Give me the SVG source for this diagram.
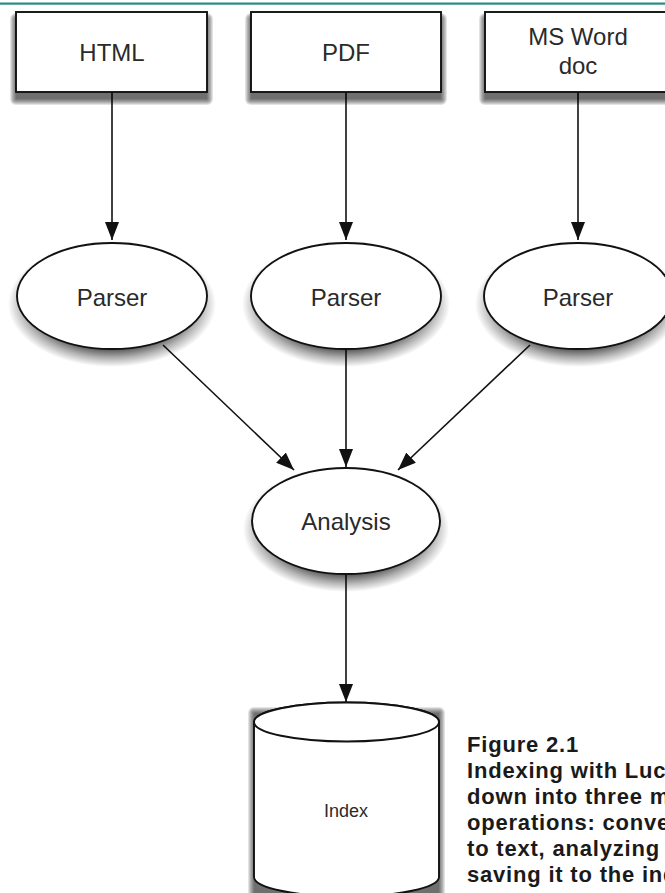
<svg xmlns="http://www.w3.org/2000/svg" width="665" height="893" viewBox="0 0 665 893">
<style>
.node{fill:#fff;stroke:#111;stroke-width:1.9}
.lbl{font-family:"Liberation Sans",Arial,sans-serif;font-size:24px;fill:#2a2a2a;text-anchor:middle}
.edge{stroke:#111;stroke-width:1.6;fill:none;marker-end:url(#ah)}
.cap{font-family:"Liberation Sans",Arial,sans-serif;font-size:22px;font-weight:bold;fill:#1a1a1a;letter-spacing:0.8px}
.sl{fill:#000;fill-opacity:0.11}
.es{fill:url(#eg)}
</style>
<defs>
<radialGradient id="eg" cx="50%" cy="50%" r="50%">
<stop offset="0" stop-color="#000" stop-opacity="0.7"/>
<stop offset="0.72" stop-color="#000" stop-opacity="0.65"/>
<stop offset="0.86" stop-color="#000" stop-opacity="0.3"/>
<stop offset="1" stop-color="#000" stop-opacity="0"/>
</radialGradient>
<marker id="ah" markerUnits="userSpaceOnUse" markerWidth="18" markerHeight="14" refX="18" refY="7" orient="auto">
<path d="M0,0 L18,7 L0,14 z" fill="#111"/>
</marker>
</defs>
<rect x="0" y="0" width="665" height="893" fill="#fff"/>
<rect x="0" y="2.5" width="665" height="2.2" fill="#2a8a84"/>

<g id="connectors">
<line class="edge" x1="112" y1="92" x2="112" y2="240"/>
<line class="edge" x1="346" y1="92" x2="346" y2="240"/>
<line class="edge" x1="578" y1="92" x2="578" y2="240"/>
<line class="edge" x1="163" y1="345" x2="294" y2="470"/>
<line class="edge" x1="346" y1="347" x2="346" y2="467"/>
<line class="edge" x1="530" y1="345" x2="398" y2="470"/>
<line class="edge" x1="346" y1="574" x2="346" y2="702"/>
</g>

<g id="html">
<rect class="sl" x="16" y="19" width="191" height="80"/>
<rect class="sl" x="15" y="18" width="193" height="82" rx="1"/>
<rect class="sl" x="14" y="17" width="195" height="84" rx="2"/>
<rect class="sl" x="13" y="16" width="197" height="86" rx="3"/>
<rect class="sl" x="12" y="15" width="199" height="88" rx="4"/>
<rect class="sl" x="11" y="14" width="201" height="90" rx="5"/>
<rect class="sl" x="10" y="13" width="203" height="92" rx="6"/>
<rect class="node" x="16" y="12" width="191" height="80"/>
<text class="lbl" x="112" y="61">HTML</text>
</g>
<g id="pdf">
<rect class="sl" x="251" y="19" width="190" height="80"/>
<rect class="sl" x="250" y="18" width="192" height="82" rx="1"/>
<rect class="sl" x="249" y="17" width="194" height="84" rx="2"/>
<rect class="sl" x="248" y="16" width="196" height="86" rx="3"/>
<rect class="sl" x="247" y="15" width="198" height="88" rx="4"/>
<rect class="sl" x="246" y="14" width="200" height="90" rx="5"/>
<rect class="sl" x="245" y="13" width="202" height="92" rx="6"/>
<rect class="node" x="251" y="12" width="190" height="80"/>
<text class="lbl" x="346" y="61">PDF</text>
</g>
<g id="msword">
<rect class="sl" x="485" y="19" width="192" height="80"/>
<rect class="sl" x="484" y="18" width="194" height="82" rx="1"/>
<rect class="sl" x="483" y="17" width="196" height="84" rx="2"/>
<rect class="sl" x="482" y="16" width="198" height="86" rx="3"/>
<rect class="sl" x="481" y="15" width="200" height="88" rx="4"/>
<rect class="sl" x="480" y="14" width="202" height="90" rx="5"/>
<rect class="sl" x="479" y="13" width="204" height="92" rx="6"/>
<rect class="node" x="485" y="12" width="192" height="80"/>
<text class="lbl" x="578" y="45">MS Word</text>
<text class="lbl" x="578" y="74">doc</text>
</g>

<g id="parser1">
<ellipse class="es" cx="112" cy="304" rx="104" ry="63"/>
<ellipse class="node" cx="112" cy="296" rx="95" ry="53"/>
<text class="lbl" x="112" y="306">Parser</text>
</g>
<g id="parser2">
<ellipse class="es" cx="346" cy="304" rx="104" ry="63"/>
<ellipse class="node" cx="346" cy="296" rx="95" ry="53"/>
<text class="lbl" x="346" y="306">Parser</text>
</g>
<g id="parser3">
<ellipse class="es" cx="578" cy="304" rx="103" ry="63"/>
<ellipse class="node" cx="578" cy="296" rx="94" ry="53"/>
<text class="lbl" x="578" y="306">Parser</text>
</g>

<g id="analysis">
<ellipse class="es" cx="346" cy="529" rx="103" ry="63"/>
<ellipse class="node" cx="346" cy="521" rx="94" ry="53"/>
<text class="lbl" x="346" y="530">Analysis</text>
</g>

<g id="index">
<rect class="sl" x="254" y="713" width="185" height="200"/>
<rect class="sl" x="253" y="712" width="187" height="200" rx="1"/>
<rect class="sl" x="252" y="711" width="189" height="200" rx="2"/>
<rect class="sl" x="251" y="710" width="191" height="200" rx="3"/>
<rect class="sl" x="250" y="709" width="193" height="200" rx="4"/>
<rect class="sl" x="249" y="708" width="195" height="200" rx="5"/>
<rect class="sl" x="248" y="707" width="197" height="200" rx="6"/>
<path class="node" d="M254,722 L254,877 A92.5,19.5 0 0 0 439,877 L439,722 A92.5,19.5 0 0 0 254,722 z"/>
<ellipse class="node" cx="346.5" cy="722" rx="92.5" ry="19.5"/>
<text class="lbl" x="346" y="817" style="font-size:18px">Index</text>
</g>

<g id="caption">
<text class="cap" x="467" y="752">Figure 2.1</text>
<text class="cap" x="467" y="778">Indexing with Lucene breaks</text>
<text class="cap" x="467" y="804">down into three main</text>
<text class="cap" x="467" y="830">operations: converting data</text>
<text class="cap" x="467" y="856">to text, analyzing it, and</text>
<text class="cap" x="467" y="882">saving it to the index.</text>
</g>
</svg>
